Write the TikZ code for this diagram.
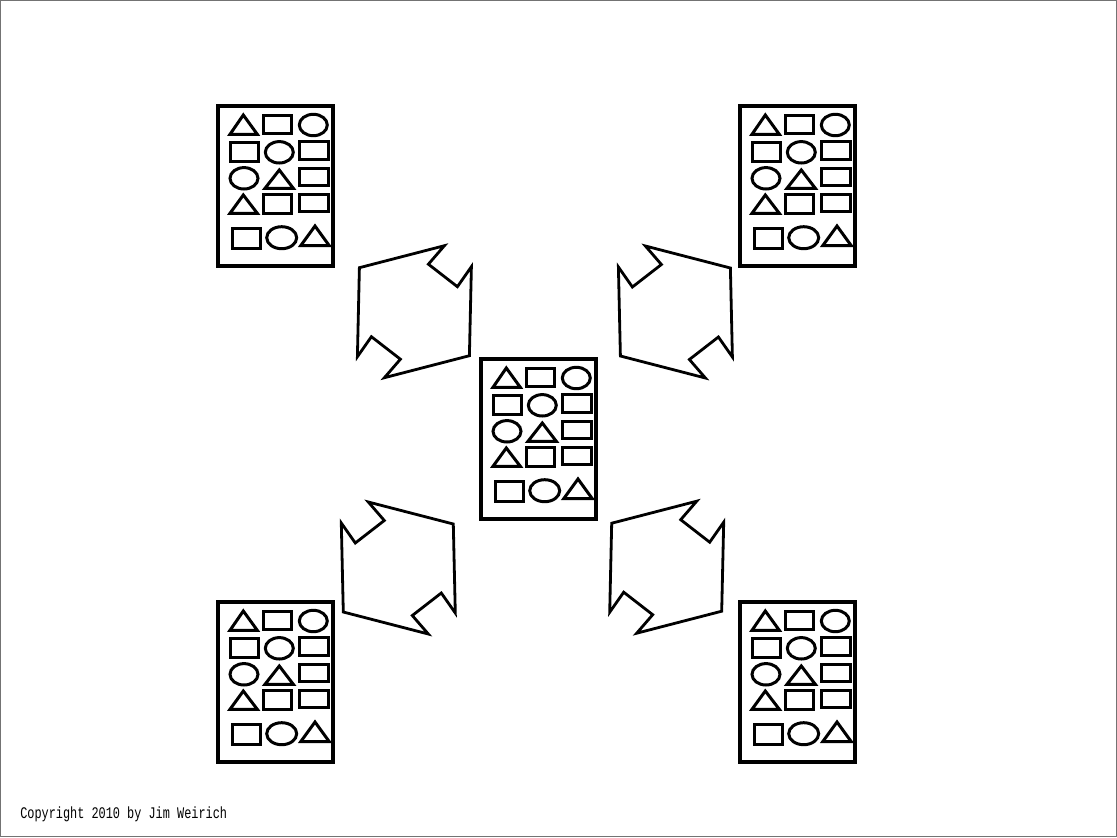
\documentclass[tikz,border=0pt]{standalone}
\usepackage{fontspec}
\newfontfamily\typewriter{Liberation Mono}
\usepackage{tikz}

\begin{document}
\begin{tikzpicture}[
    x=0.25mm, y=-0.25mm,
    cardbox/.style ={draw=black, line width=0.85mm, fill=white},
    glyph/.style   ={draw=black, line width=0.75mm, line join=miter},
    turnline/.style={draw=black, line width=0.7mm, line join=miter},
    frame/.style   ={draw=black!55, line width=0.3mm},
    % ---- card with its grid of shapes ----
    card/.pic={
        \draw[cardbox] (0,0) rectangle (115,160);
        % row 1
        \draw[glyph] (25.3,9) -- (39.3,28.3) -- (12,28.3) -- cycle;
        \draw[glyph] (45.3,9) rectangle (73.7,27.3);
        \draw[glyph] (95.3,19) ellipse [x radius=14, y radius=10.7];
        % row 2
        \draw[glyph] (12.7,36.7) rectangle (40.3,55.7);
        \draw[glyph] (61.3,46.3) ellipse [x radius=14, y radius=10.7];
        \draw[glyph] (81.3,35.7) rectangle (110.3,53.3);
        % row 3
        \draw[glyph] (26,72.3) ellipse [x radius=14, y radius=10.7];
        \draw[glyph] (61.3,64) -- (75.3,82.3) -- (47,82.3) -- cycle;
        \draw[glyph] (81.3,62.3) rectangle (110.3,79);
        % row 4
        \draw[glyph] (25.3,89) -- (39.3,107.3) -- (12,107.3) -- cycle;
        \draw[glyph] (45.3,88.3) rectangle (73.7,107.3);
        \draw[glyph] (81.3,88.3) rectangle (110.3,105.7);
        % row 5
        \draw[glyph] (14.7,122.3) rectangle (42,142.3);
        \draw[glyph] (63.7,131.7) ellipse [x radius=15, y radius=11];
        \draw[glyph] (97,120) -- (111.3,139.7) -- (82.7,139.7) -- cycle;
    },
    % ---- pair of turning arrows ----
    turn/.pic={
        \draw[turnline] (30,-66) -- (-55,-44) -- (-57,45) -- (-43,25)
            -- (-14,47.5) -- (-30,66) -- (55,44) -- (57,-45)
            -- (43,-25) -- (14,-47.5) -- cycle;
    },
]

\useasboundingbox (0,0) rectangle (1117,837);
\draw[frame] (0.6,0.6) rectangle (1116.4,836.4);

% ---- Cards ----
\foreach \cx/\cy/\nm in {218/106/cardtl, 740/106/cardtr, 481/359/cardmid,
                         218/602/cardbl, 740/602/cardbr} {
   \pic (\nm) at (\cx,\cy) {card};
}

% ---- Turning arrows ----
\pic (turntl) at (414.4,311.7) {turn};
\pic[xscale=-1] (turntr) at (675.4,312) {turn};
\pic[xscale=-1] (turnbl) at (398.3,568) {turn};
\pic (turnbr) at (666.7,567.2) {turn};

% ---- Copyright ----
\node[anchor=base west, inner sep=0pt] (copy) at (20,818.3)
   {\typewriter\fontsize{11.5pt}{13pt}\selectfont\scalebox{0.735}[1]{Copyright 2010 by Jim Weirich}};

\end{tikzpicture}
\end{document}
